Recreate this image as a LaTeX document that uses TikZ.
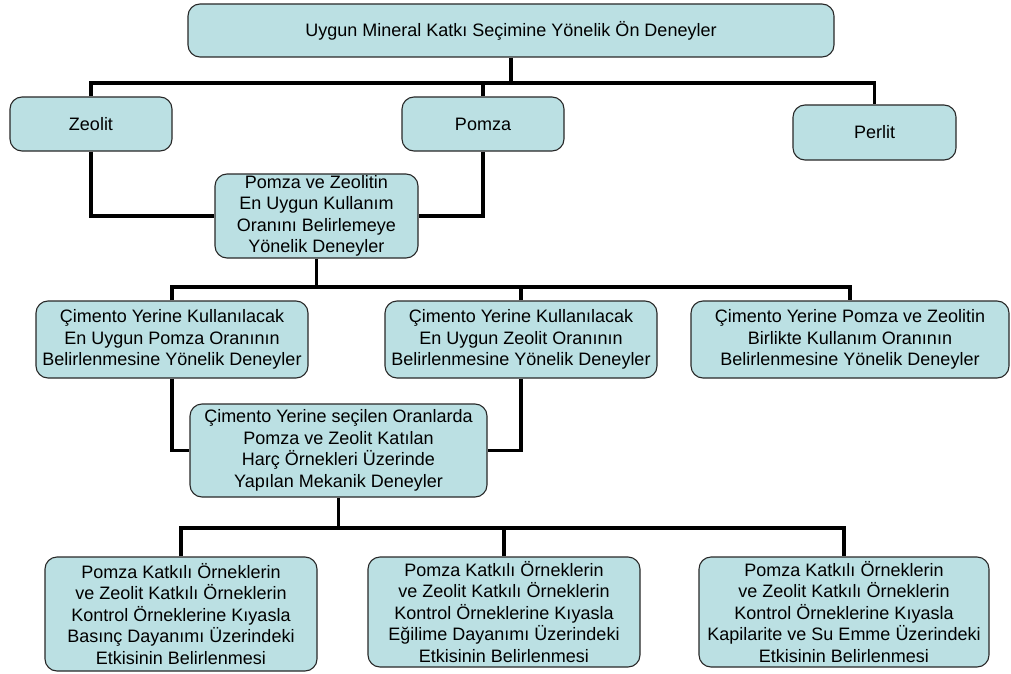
\documentclass[tikz,border=0pt]{standalone}
\usepackage{fontspec}
\setmainfont{Liberation Sans}
\definecolor{boxfill}{RGB}{187,224,227}
\definecolor{boxline}{RGB}{40,40,40}
\tikzset{
  box/.style={draw=boxline, line width=1.1pt, fill=boxfill, rounded corners=12pt,
    align=center, inner sep=0pt, font=\fontsize{18}{21.5}\selectfont},
  conn/.style={draw=black, line width=3.6pt}
}
\begin{document}
\begin{tikzpicture}[x=1pt,y=-1pt]
\useasboundingbox (0,0) rectangle (1011,674);
% bus levels
\coordinate (y1) at (0,83);
\coordinate (y2) at (0,287);
\coordinate (y3) at (0,528);
% connectors (drawn first, boxes on top)
\begin{scope}[on background layer/.style={}]
\end{scope}
% nodes
\node[box, minimum width=646pt, minimum height=53pt] (top) at (511,30.5) {Uygun Mineral Katkı Seçimine Yönelik Ön Deneyler};
\node[box, minimum width=162pt, minimum height=54pt] (zeo) at (91,124) {Zeolit};
\node[box, minimum width=162pt, minimum height=54pt] (pom) at (483,124) {Pomza};
\node[box, minimum width=163pt, minimum height=55pt] (per) at (874.5,132.5) {Perlit};
\node[box, minimum width=203pt, minimum height=84pt] (mid) at (316.5,216) {Pomza ve Zeolitin\\En Uygun Kullanım\\Oranını Belirlemeye\\Yönelik Deneyler};
\node[box, minimum width=272pt, minimum height=77pt] (b1) at (172,339.5) {Çimento Yerine Kullanılacak\\En Uygun Pomza Oranının\\Belirlenmesine Yönelik Deneyler};
\node[box, minimum width=272pt, minimum height=77pt] (b2) at (521,339.5) {Çimento Yerine Kullanılacak\\En Uygun Zeolit Oranının\\Belirlenmesine Yönelik Deneyler};
\node[box, minimum width=318pt, minimum height=77pt] (b3) at (850,339.5) {Çimento Yerine Pomza ve Zeolitin\\Birlikte Kullanım Oranının\\Belirlenmesine Yönelik Deneyler};
\node[box, minimum width=297pt, minimum height=93pt] (b4) at (338.5,450.5) {Çimento Yerine seçilen Oranlarda\\Pomza ve Zeolit Katılan\\Harç Örnekleri Üzerinde\\Yapılan Mekanik Deneyler};
\node[box, minimum width=272pt, minimum height=114pt] (ca) at (181,614) {Pomza Katkılı Örneklerin\\ve Zeolit Katkılı Örneklerin\\Kontrol Örneklerine Kıyasla\\Basınç Dayanımı Üzerindeki\\Etkisinin Belirlenmesi};
\node[box, minimum width=272pt, minimum height=110pt] (cb) at (504,612) {Pomza Katkılı Örneklerin\\ve Zeolit Katkılı Örneklerin\\Kontrol Örneklerine Kıyasla\\Eğilime Dayanımı Üzerindeki\\Etkisinin Belirlenmesi};
\node[box, minimum width=290pt, minimum height=110pt] (cc) at (844,612) {Pomza Katkılı Örneklerin\\ve Zeolit Katkılı Örneklerin\\Kontrol Örneklerine Kıyasla\\Kapilarite ve Su Emme Üzerindeki\\Etkisinin Belirlenmesi};
% connectors
\draw[conn] (top.south) -- (top.south |- y1);
\draw[conn] (zeo.north) -- (zeo.north |- y1) -- (per.north |- y1) -- (per.north);
\draw[conn] (pom.north) -- (pom.north |- y1);
\draw[conn] (zeo.south) |- (mid.west);
\draw[conn] (pom.south) |- (mid.east);
\draw[conn] (mid.south) -- (mid.south |- y2);
\draw[conn] (b1.north) -- (b1.north |- y2) -- (b3.north |- y2) -- (b3.north);
\draw[conn] (b2.north) -- (b2.north |- y2);
\draw[conn] (b1.south) |- (b4.west);
\draw[conn] (b2.south) |- (b4.east);
\draw[conn] (b4.south) -- (b4.south |- y3);
\draw[conn] (ca.north) -- (ca.north |- y3) -- (cc.north |- y3) -- (cc.north);
\draw[conn] (cb.north) -- (cb.north |- y3);
\end{tikzpicture}
\end{document}
